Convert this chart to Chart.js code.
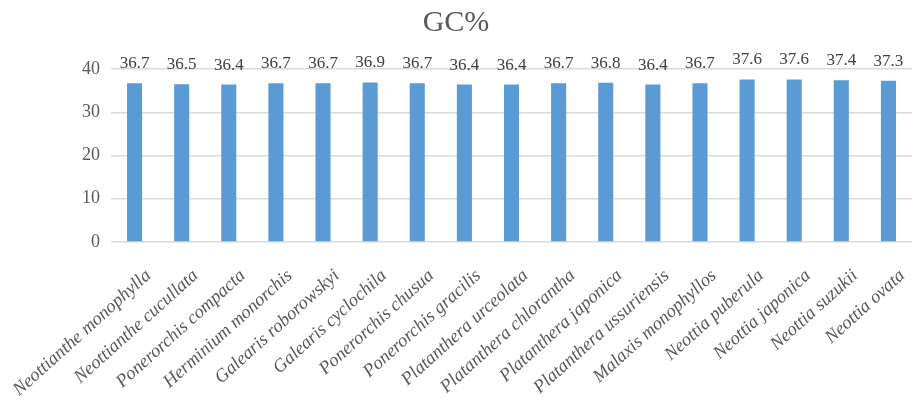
<!DOCTYPE html>
<html>
<head>
<meta charset="utf-8">
<script src="https://cdn.jsdelivr.net/npm/chart.js@4"></script>
<style>
  html, body { margin: 0; padding: 0; background: #fff; }
  #wrap { width: 914px; height: 407px; }
</style>
</head>
<body>
<div id="wrap"><canvas id="gcPlot" width="914" height="407"></canvas></div>
<script>
// species along the x axis
const species = [
    'Neottianthe monophylla', 'Neottianthe cucullata', 'Ponerorchis compacta',
    'Herminium monorchis', 'Galearis roborowskyi', 'Galearis cyclochila',
    'Ponerorchis chusua', 'Ponerorchis gracilis', 'Platanthera urceolata',
    'Platanthera chlorantha', 'Platanthera japonica', 'Platanthera ussuriensis',
    'Malaxis monophyllos', 'Neottia puberula', 'Neottia japonica',
    'Neottia suzukii', 'Neottia ovata'
];

// GC content per species
const gcValues = [36.7, 36.5, 36.4, 36.7, 36.7, 36.9, 36.7, 36.4, 36.4, 36.7, 36.8, 36.4, 36.7, 37.6, 37.6, 37.4, 37.3];

const yTicks = [0, 10, 20, 30, 40];

const barColour = '#5b9bd5';
const textColour = '#595959';
const serif = "'Liberation Serif', 'Times New Roman', serif";

// value labels sitting above each bar
const valueLabels = {
    id: 'valueLabels',
    afterDatasetsDraw(chart) {
        const ctx = chart.ctx;
        const meta = chart.getDatasetMeta(0);
        ctx.save();
        ctx.font = `17px ${serif}`;
        ctx.fillStyle = '#404040';
        ctx.textAlign = 'center';
        ctx.textBaseline = 'alphabetic';
        meta.data.forEach((bar, i) => {
            ctx.fillText(gcValues[i].toFixed(1), bar.x, bar.y - 15);
        });
        ctx.restore();
    }
};

const chart = new Chart(document.getElementById('gcPlot').getContext('2d'), {
    type: 'bar',
    data: {
        labels: species,
        datasets: [{
            label: 'GC%',
            data: gcValues,
            backgroundColor: barColour,
            borderWidth: 0,
            barPercentage: 0.32,
            categoryPercentage: 1,
        }],
    },
    options: {
        responsive: false,
        animation: false,
        layout: { padding: { left: 0, right: 2, top: 0, bottom: 0 } },
        scales: {
            x: {
                grid: { display: false },
                border: { display: false },
                ticks: {
                    color: textColour,
                    font: { family: serif, size: 18.5, style: 'italic' },
                    minRotation: 42,
                    maxRotation: 42,
                    autoSkip: false,
                    labelOffset: 14,
                    padding: 15,
                },
                // rotated labels may run off the left edge, as in the original
                afterFit: scale => {
                    scale.height = 165;
                    scale.paddingLeft = 0;
                    scale.paddingRight = 0;
                },
            },
            y: {
                min: 0,
                max: 40,
                afterBuildTicks: scale => { scale.ticks = yTicks.map(v => ({ value: v })); },
                grid: { color: '#d9d9d9', lineWidth: 1.5, drawTicks: false },
                border: { display: false },
                ticks: {
                    color: textColour,
                    font: { family: serif, size: 18 },
                    padding: 11,
                },
                afterFit: scale => { scale.width = 111; },
            },
        },
        plugins: {
            legend: { display: false },
            tooltip: { enabled: false },
            title: {
                display: true,
                text: 'GC%',
                color: textColour,
                font: { family: serif, size: 30, weight: 'normal' },
                padding: { top: 5, bottom: 28 },
            },
        },
    },
    plugins: [valueLabels],
});
</script>
</body>
</html>
